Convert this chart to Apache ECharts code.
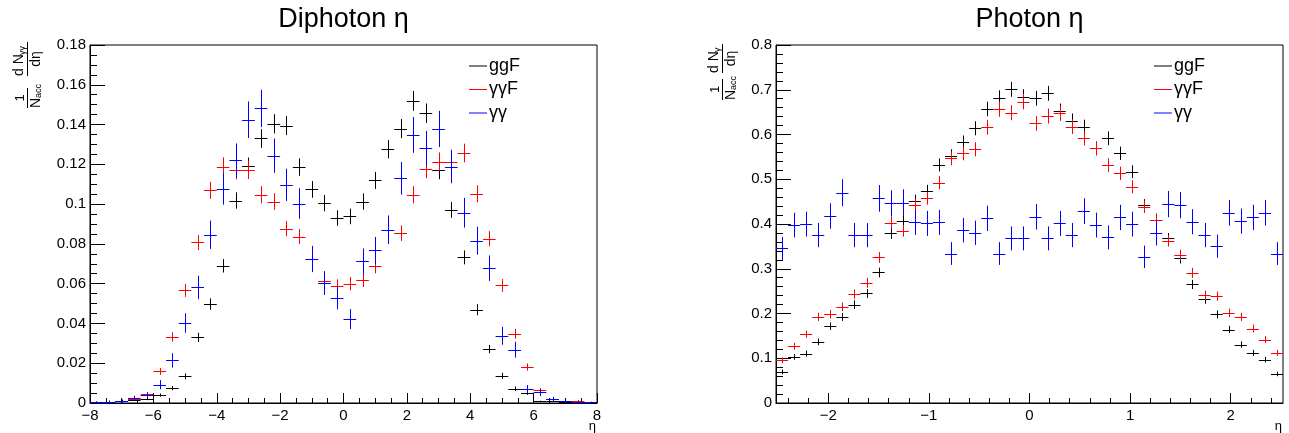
<!DOCTYPE html>
<html><head><meta charset="utf-8">
<script src="https://cdn.jsdelivr.net/npm/echarts@6/dist/echarts.min.js"></script>
<style>html,body{margin:0;padding:0;background:#fff}#c{width:1289px;height:433px}</style>
</head><body><div id="c"></div>
<script>
// ---------- data: Diphoton eta (left panel) ----------
const diphotonBinWidth = 0.4;
const diphotonEta = [-7.8,-7.4,-7.0,-6.6,-6.2,-5.8,-5.4,-5.0,-4.6,-4.2,-3.8,-3.4,-3.0,-2.6,-2.2,-1.8,-1.4,-1.0,-0.6,-0.2,0.2,0.6,1.0,1.4,1.8,2.2,2.6,3.0,3.4,3.8,4.2,4.6,5.0,5.4,5.8,6.2,6.6,7.0,7.4,7.8];
const diphotonGgF = [0.0005,0.0005,0.0008,0.0015,0.002,0.004,0.0075,0.0134,0.033,0.0497,0.069,0.1018,0.119,0.133,0.1404,0.1395,0.1186,0.1074,0.1005,0.093,0.0938,0.1013,0.1119,0.1276,0.138,0.1519,0.1457,0.1169,0.0971,0.0732,0.0469,0.0271,0.0137,0.0072,0.005,0.0008,0.001,0.0006,0.0005,0.0003];
const diphotonGgFErr = [0.0003,0.0003,0.0004,0.0005,0.0006,0.0008,0.0011,0.0015,0.0023,0.0029,0.0034,0.0041,0.0044,0.0047,0.0048,0.0048,0.0044,0.0042,0.0041,0.0039,0.0039,0.0041,0.0043,0.0046,0.0048,0.005,0.0049,0.0044,0.004,0.0035,0.0028,0.0021,0.0015,0.0011,0.0009,0.0004,0.0004,0.0003,0.0003,0.0002];
const diphotonAAF = [0.0003,0.0005,0.001,0.002,0.0047,0.0159,0.0332,0.0566,0.0807,0.1069,0.1189,0.1169,0.1172,0.1047,0.1013,0.0877,0.0837,0.0724,0.0615,0.059,0.06,0.0616,0.0687,0.0871,0.0854,0.1047,0.1176,0.1214,0.121,0.1257,0.1052,0.0826,0.0591,0.0348,0.0181,0.0063,0.0018,0.001,0.0008,0.0003];
const diphotonAAFErr = [0.0002,0.0003,0.0004,0.0006,0.0009,0.0017,0.0024,0.0032,0.0038,0.0043,0.0046,0.0045,0.0046,0.0043,0.0042,0.0039,0.0038,0.0036,0.0033,0.0032,0.0033,0.0033,0.0035,0.0039,0.0039,0.0043,0.0046,0.0046,0.0046,0.0047,0.0043,0.0038,0.0032,0.0025,0.0018,0.0011,0.0006,0.0004,0.0004,0.0002];
const diphotonAA = [0.0003,0.0007,0.001,0.0025,0.004,0.0092,0.0214,0.0402,0.0581,0.0846,0.1077,0.122,0.1424,0.1481,0.1244,0.1097,0.1003,0.0724,0.0603,0.0527,0.0422,0.0712,0.0767,0.0871,0.113,0.1348,0.1281,0.1378,0.1189,0.0957,0.0816,0.0678,0.0338,0.0268,0.007,0.0053,0.002,0.001,0.0007,0.0003];
const diphotonAAErr = [0.0004,0.0006,0.0008,0.0012,0.0015,0.0023,0.0036,0.0049,0.0059,0.0071,0.008,0.0085,0.0092,0.0094,0.0086,0.0081,0.0077,0.0066,0.006,0.0056,0.005,0.0065,0.0068,0.0072,0.0082,0.009,0.0087,0.0091,0.0084,0.0075,0.007,0.0064,0.0045,0.004,0.002,0.0018,0.0011,0.0008,0.0006,0.0004];

// ---------- data: Photon eta (right panel) ----------
const photonBinWidth = 0.12;
const photonEta = [-2.46,-2.34,-2.22,-2.10,-1.98,-1.86,-1.74,-1.62,-1.50,-1.38,-1.26,-1.14,-1.02,-0.90,-0.78,-0.66,-0.54,-0.42,-0.30,-0.18,-0.06,0.06,0.18,0.30,0.42,0.54,0.66,0.78,0.90,1.02,1.14,1.26,1.38,1.50,1.62,1.74,1.86,1.98,2.10,2.22,2.34,2.46];
const photonGgF = [0.0694,0.103,0.1105,0.1365,0.1716,0.1924,0.22,0.2447,0.2917,0.379,0.407,0.452,0.4736,0.5318,0.552,0.5825,0.6139,0.657,0.6823,0.701,0.6846,0.681,0.692,0.653,0.631,0.6175,0.569,0.5915,0.558,0.5168,0.4423,0.41,0.3678,0.323,0.2649,0.2313,0.1978,0.1642,0.1306,0.1119,0.097,0.0649];
const photonGgFErr = [0.0053,0.0064,0.0066,0.0074,0.0083,0.0088,0.0094,0.0099,0.0108,0.0123,0.0128,0.0134,0.0138,0.0146,0.0149,0.0153,0.0157,0.0162,0.0165,0.0167,0.0165,0.0165,0.0166,0.0162,0.0159,0.0157,0.0151,0.0154,0.0149,0.0144,0.0133,0.0128,0.0121,0.0114,0.0103,0.0096,0.0089,0.0081,0.0072,0.0067,0.0062,0.0051];
const photonAAF = [0.0955,0.1268,0.1537,0.1924,0.1984,0.2148,0.2432,0.2685,0.3253,0.4027,0.3848,0.4423,0.4573,0.4922,0.5468,0.558,0.5669,0.6161,0.6564,0.6488,0.6734,0.625,0.6414,0.6474,0.6175,0.5915,0.569,0.5318,0.5132,0.4832,0.4385,0.41,0.3624,0.3304,0.2908,0.2409,0.2387,0.2013,0.1924,0.1664,0.1418,0.1119];
const photonAAFErr = [0.0065,0.0075,0.0082,0.0092,0.0094,0.0097,0.0104,0.0109,0.012,0.0133,0.013,0.014,0.0142,0.0147,0.0155,0.0157,0.0158,0.0165,0.017,0.0169,0.0172,0.0166,0.0168,0.0169,0.0165,0.0162,0.0158,0.0153,0.015,0.0146,0.0139,0.0134,0.0126,0.0121,0.0113,0.0103,0.0103,0.0094,0.0092,0.0086,0.0079,0.007];
const photonAA = [0.3454,0.3975,0.3998,0.3752,0.418,0.4698,0.3752,0.375,0.4573,0.446,0.448,0.4036,0.4013,0.4036,0.334,0.3863,0.3803,0.4125,0.334,0.3678,0.3678,0.416,0.3678,0.4013,0.3752,0.4288,0.3975,0.37,0.4147,0.3998,0.3266,0.379,0.4445,0.4423,0.405,0.3752,0.3505,0.425,0.4065,0.4147,0.425,0.334];
const photonAAErr = [0.0259,0.0277,0.0278,0.027,0.0284,0.0302,0.027,0.027,0.0298,0.0294,0.0295,0.028,0.0279,0.028,0.0254,0.0273,0.0271,0.0283,0.0254,0.0267,0.0267,0.0284,0.0267,0.0279,0.027,0.0288,0.0277,0.0268,0.0283,0.0278,0.0251,0.0271,0.0293,0.0293,0.028,0.027,0.026,0.0287,0.0281,0.0283,0.0287,0.0254];

// ---------- tick labels ----------
const photonMajorTicks = [-2,-1,0,1,2];
const photonMinorTicks = [-2.4,-2.2,-1.8,-1.6,-1.4,-1.2,-0.8,-0.6,-0.4,-0.2,0.2,0.4,0.6,0.8,1.2,1.4,1.6,1.8,2.2,2.4];
const seriesNames = ['ggF','γγF','γγ'];
const seriesColors = ['#000000','#ff0000','#0000ff'];

const FONT = '"Liberation Sans", Arial, Helvetica, sans-serif';
const fmt = v => (Math.round(v*1000)/1000).toString().replace('-', '\u2212');

function zip(x, y, e){ return x.map((v,i)=>[v, y[i], e[i]]); }

function crossRenderer(halfW){
  return function(params, api){
    const x = api.value(0), y = api.value(1), e = api.value(2);
    const c = api.visual('color');
    const pL = api.coord([x - halfW, y]);
    const pR = api.coord([x + halfW, y]);
    const pT = api.coord([x, y + e]);
    const pB = api.coord([x, y - e]);
    const yy = Math.round(pL[1]) + 0.5;
    const xx = Math.round(pT[0]) + 0.5;
    return {type:'group', children:[
      {type:'line', shape:{x1:pL[0], y1:yy, x2:pR[0], y2:yy}, style:{stroke:c, lineWidth:1}},
      {type:'line', shape:{x1:xx, y1:pT[1], x2:xx, y2:pB[1]}, style:{stroke:c, lineWidth:1}}
    ]};
  };
}

function mkSeries(name, color, data, halfW, axisIdx){
  return {type:'custom', name, xAxisIndex:axisIdx.x, yAxisIndex:axisIdx.y, clip:true,
    itemStyle:{color}, data, renderItem: crossRenderer(halfW), animation:false};
}

const lineStyle = {show:true, onZero:false, lineStyle:{color:'#000', width:1}};
const labelBase = {color:'#000', fontSize:15, fontFamily:FONT, formatter:fmt};

const chart = echarts.init(document.getElementById('c'), null, {renderer:'canvas'});

// y-axis title built from text pieces (rotated fraction)
function yTitle(ox, oy, sub, l1, l2a, l2b){
  const ts = (t, x, y, fs, align) => ({type:'text', x, y, style:{text:t, fontSize:fs, fontFamily:FONT, fill:'#000', align:align||'center', verticalAlign:'middle'}});
  return {type:'group', x:ox, y:oy, rotation:Math.PI/2, children:[
    {type:'line', shape:{x1:0, y1:0.5, x2:l1, y2:0.5}, style:{stroke:'#000', lineWidth:1}},
    ts('1', l1/2, -7, 13),
    ts('N', 0, 9, 14, 'left'),
    ts('acc', 10, 12, 9, 'left'),
    {type:'line', shape:{x1:l2a, y1:0.5, x2:l2b, y2:0.5}, style:{stroke:'#000', lineWidth:1}},
    ts('d N', l2a, -8, 14, 'left'),
    ts(sub, l2a+21, -4, 9, 'left'),
    ts('dη', (l2a+l2b)/2, 9, 14)
  ]};
}

const option = {
  backgroundColor:'#fff',
  animation:false,
  grid:[
    {left:90, top:45, width:507, height:358, show:true, borderColor:'#000', borderWidth:1, backgroundColor:'transparent'},
    {left:776, top:45, width:507, height:358, show:true, borderColor:'#000', borderWidth:1, backgroundColor:'transparent'}
  ],
  xAxis:[
    {type:'value', gridIndex:0, min:-8, max:8, interval:2, axisLine:lineStyle, splitLine:{show:false},
      axisTick:{show:true, inside:true, length:10, lineStyle:{color:'#000'}},
      minorTick:{show:true, splitNumber:4, length:5, lineStyle:{color:'#000'}},
      axisLabel:Object.assign({}, labelBase, {margin:5})},
    {type:'value', gridIndex:1, min:-2.52, max:2.52, axisLine:lineStyle, splitLine:{show:false},
      axisTick:{show:true, inside:true, length:10, customValues:photonMajorTicks, lineStyle:{color:'#000'}},
      axisLabel:Object.assign({}, labelBase, {margin:5, customValues:photonMajorTicks})},
    {type:'value', gridIndex:1, min:-2.52, max:2.52, position:'bottom',
      axisLine:{show:false, onZero:false}, splitLine:{show:false}, axisLabel:{show:false},
      axisTick:{show:true, inside:true, length:5, customValues:photonMinorTicks, lineStyle:{color:'#000'}}}
  ],
  yAxis:[
    {type:'value', gridIndex:0, min:0, max:0.18, interval:0.02, axisLine:lineStyle, splitLine:{show:false},
      axisTick:{show:true, inside:true, length:15, lineStyle:{color:'#000'}},
      minorTick:{show:true, splitNumber:4, length:7, lineStyle:{color:'#000'}},
      axisLabel:Object.assign({}, labelBase, {margin:4})},
    {type:'value', gridIndex:1, min:0, max:0.8, interval:0.1, axisLine:lineStyle, splitLine:{show:false},
      axisTick:{show:true, inside:true, length:15, lineStyle:{color:'#000'}},
      minorTick:{show:true, splitNumber:5, length:7, lineStyle:{color:'#000'}},
      axisLabel:Object.assign({}, labelBase, {margin:4})}
  ],
  legend:[
    {left:469, top:57, orient:'vertical', itemWidth:18, itemHeight:1, itemGap:5.5, icon:'rect', padding:0,
      data:seriesNames, textStyle:{fontSize:18, fontFamily:FONT, color:'#000', padding:[0,0,0,-3]}, selectedMode:false},
    {left:1154, top:57, orient:'vertical', itemWidth:18, itemHeight:1, itemGap:5.5, icon:'rect', padding:0,
      data:seriesNames, textStyle:{fontSize:18, fontFamily:FONT, color:'#000', padding:[0,0,0,-3]}, selectedMode:false}
  ],
  graphic:[
    {type:'text', x:343.5, y:20, style:{text:'Diphoton η', fontSize:27, fontFamily:FONT, fill:'#000', align:'center', verticalAlign:'middle'}},
    {type:'text', x:1029.5, y:20, style:{text:'Photon η', fontSize:27, fontFamily:FONT, fill:'#000', align:'center', verticalAlign:'middle'}},
    {type:'text', x:596, y:426, style:{text:'η', fontSize:13, fontFamily:FONT, fill:'#000', align:'right', verticalAlign:'middle'}},
    {type:'text', x:1282, y:426, style:{text:'η', fontSize:13, fontFamily:FONT, fill:'#000', align:'right', verticalAlign:'middle'}},
    yTitle(27, 108, 'γγ', 20, 32, 66),
    yTitle(722, 100, 'γ', 21, 27, 56)
  ],
  series:[
    mkSeries(seriesNames[0], seriesColors[0], zip(diphotonEta, diphotonGgF, diphotonGgFErr), diphotonBinWidth/2, {x:0,y:0}),
    mkSeries(seriesNames[1], seriesColors[1], zip(diphotonEta, diphotonAAF, diphotonAAFErr), diphotonBinWidth/2, {x:0,y:0}),
    mkSeries(seriesNames[2], seriesColors[2], zip(diphotonEta, diphotonAA, diphotonAAErr), diphotonBinWidth/2, {x:0,y:0}),
    mkSeries(seriesNames[0], seriesColors[0], zip(photonEta, photonGgF, photonGgFErr), photonBinWidth/2, {x:1,y:1}),
    mkSeries(seriesNames[1], seriesColors[1], zip(photonEta, photonAAF, photonAAFErr), photonBinWidth/2, {x:1,y:1}),
    mkSeries(seriesNames[2], seriesColors[2], zip(photonEta, photonAA, photonAAErr), photonBinWidth/2, {x:1,y:1})
  ]
};
chart.setOption(option);
</script>
</body></html>
